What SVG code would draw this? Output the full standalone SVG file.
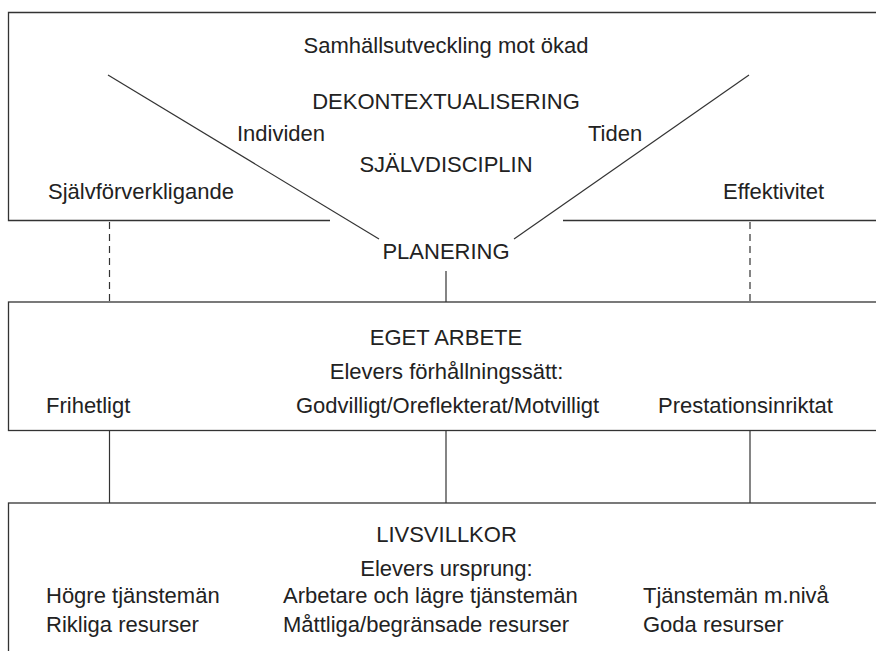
<svg xmlns="http://www.w3.org/2000/svg" width="876" height="651" viewBox="0 0 876 651">
<style>
.box{fill:none;stroke:#333;stroke-width:1.3}
.ln{fill:none;stroke:#333;stroke-width:1.2}
.dash{stroke-dasharray:7 5}
text{font-family:"Liberation Sans",Arial,sans-serif;font-size:22px;fill:#222}
.c{text-anchor:middle}
</style>
<rect width="876" height="651" fill="#fff"/>
<g id="samhalle">
<path class="box" d="M330,220.5 H8.5 V12.5 H890 V220.5 H563"/>
<text class="c" x="446" y="52.5">Samhällsutveckling mot ökad</text>
<text class="c" x="446" y="109">DEKONTEXTUALISERING</text>
<text x="237" y="141">Individen</text>
<text x="588" y="141">Tiden</text>
<text class="c" x="446" y="172">SJÄLVDISCIPLIN</text>
<text x="48" y="199">Självförverkligande</text>
<text x="723" y="199">Effektivitet</text>
</g>
<g id="planering">
<text class="c" x="446" y="259">PLANERING</text>
</g>
<g id="eget-arbete">
<rect class="box" x="8.5" y="302" width="880" height="128.5"/>
<text class="c" x="446" y="345">EGET ARBETE</text>
<text class="c" x="446.5" y="379">Elevers förhållningssätt:</text>
<text x="46" y="413">Frihetligt</text>
<text x="296" y="413">Godvilligt/Oreflekterat/Motvilligt</text>
<text x="658" y="413">Prestationsinriktat</text>
</g>
<g id="livsvillkor">
<rect class="box" x="8.5" y="503" width="880" height="160"/>
<text class="c" x="446.5" y="541.5">LIVSVILLKOR</text>
<text class="c" x="446.5" y="575.5">Elevers ursprung:</text>
<text x="46" y="603">Högre tjänstemän</text>
<text x="283" y="603">Arbetare och lägre tjänstemän</text>
<text x="643" y="603">Tjänstemän m.nivå</text>
<text x="46" y="632">Rikliga resurser</text>
<text x="283" y="632">Måttliga/begränsade resurser</text>
<text x="643" y="632">Goda resurser</text>
</g>
<g id="connectors">
<line class="ln" x1="108" y1="75" x2="379" y2="239"/>
<line class="ln" x1="749" y1="75" x2="514" y2="239"/>
<line class="ln dash" x1="109.5" y1="222" x2="109.5" y2="302"/>
<line class="ln dash" x1="750" y1="222" x2="750" y2="302"/>
<line class="ln" x1="446" y1="271" x2="446" y2="302"/>
<line class="ln" x1="109.5" y1="431" x2="109.5" y2="503"/>
<line class="ln" x1="446" y1="431" x2="446" y2="503"/>
<line class="ln" x1="750" y1="431" x2="750" y2="503"/>
</g>
</svg>
